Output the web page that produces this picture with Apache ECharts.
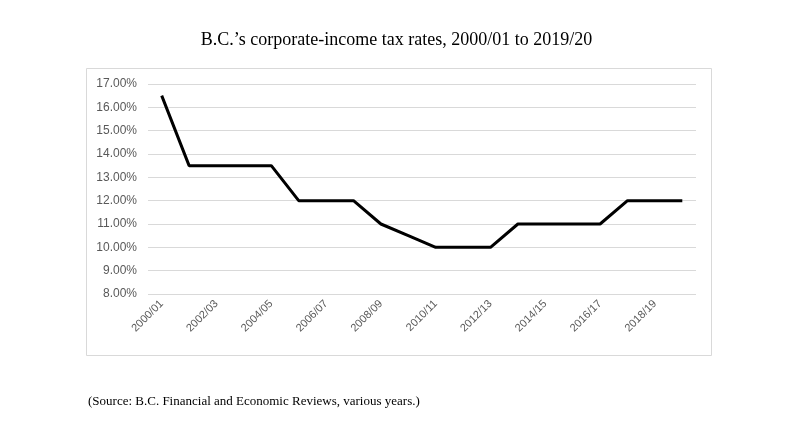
<!DOCTYPE html>
<html>
<head>
<meta charset="utf-8">
<script src="https://cdn.jsdelivr.net/npm/echarts@6/dist/echarts.min.js"></script>
<style>
html,body{margin:0;padding:0;background:#fff;}
#c{width:793px;height:438px;}
</style>
</head>
<body>
<div id="c"></div>
<script>
const categories = ['2000/01','2001/02','2002/03','2003/04','2004/05','2005/06','2006/07','2007/08','2008/09','2009/10','2010/11','2011/12','2012/13','2013/14','2014/15','2015/16','2016/17','2017/18','2018/19','2019/20'];
const taxRates = [16.5,13.5,13.5,13.5,13.5,12,12,12,11,10.5,10,10,10,11,11,11,11,12,12,12];
const titleText = 'B.C.\u2019s corporate-income tax rates, 2000/01 to 2019/20';
const sourceText = '(Source: B.C. Financial and Economic Reviews, various years.)';

const chart = echarts.init(document.getElementById('c'), null, {renderer:'canvas'});
chart.setOption({
  backgroundColor:'#fff',
  animation:false,
  title:{
    text:titleText,
    left:'center',
    top:26,
    textStyle:{fontFamily:'Liberation Serif',fontWeight:'normal',fontSize:18,color:'#000'}
  },
  graphic:[
    {type:'rect',shape:{x:86.5,y:68.5,width:625,height:287},style:{fill:'none',stroke:'#d9d9d9',lineWidth:1},z:-1},
    {type:'text',left:88,top:395,style:{text:sourceText,font:'13px "Liberation Serif"',fill:'#000'}}
  ],
  grid:{left:148,right:97,top:84,bottom:144,containLabel:false},
  xAxis:{
    type:'category',
    data:categories,
    boundaryGap:true,
    axisLine:{show:false},
    axisTick:{show:false},
    axisLabel:{interval:1,rotate:45,color:'#595959',fontSize:11,fontFamily:'Liberation Sans',margin:8}
  },
  yAxis:{
    type:'value',
    min:8,max:17,interval:1,
    axisLine:{show:false},
    axisTick:{show:false},
    splitLine:{lineStyle:{color:'#d9d9d9',width:1}},
    axisLabel:{formatter:v=>v.toFixed(2)+'%',color:'#595959',fontSize:12,fontFamily:'Liberation Sans',margin:11}
  },
  series:[{
    type:'line',
    data:taxRates,
    symbol:'none',
    lineStyle:{color:'#000',width:3},
    itemStyle:{color:'#000'}
  }]
});
</script>
</body>
</html>
